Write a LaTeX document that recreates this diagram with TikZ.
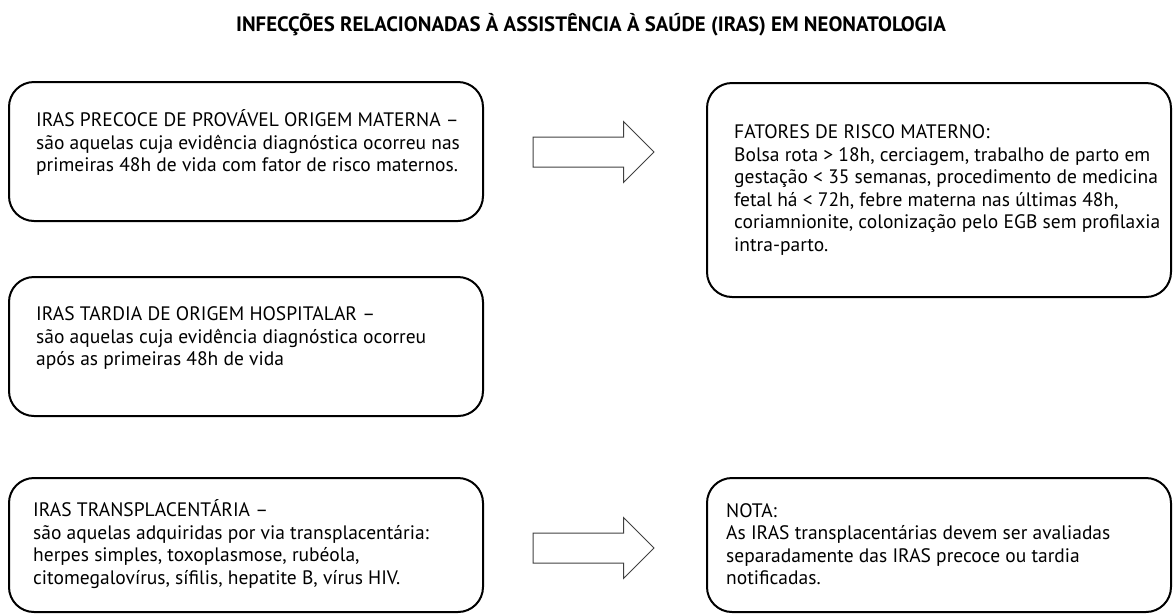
\documentclass[tikz,border=0pt]{standalone}
\usepackage{fontspec}
\setmainfont{PT Sans}
\usetikzlibrary{shapes.arrows, positioning}

\begin{document}
\begin{tikzpicture}[
		x=1pt, y=-1pt,
		box/.style={draw, line width=2pt, rounded corners=25pt, inner sep=0pt},
		txt/.style={align=left, inner sep=0pt, font=\fontsize{19.5}{22.5}\selectfont},
		bigarrow/.style={single arrow, draw=black!75, line width=1pt, minimum height=121pt,
			inner xsep=0pt, inner ysep=14.5pt, single arrow head extend=15.5pt}
		]
	\useasboundingbox (0,0) rectangle (1173,614);

	% --- Título ---
	\node[font=\fontsize{20.8}{24}\selectfont\bfseries] (titulo) at (591,25)
		{INFECÇÕES RELACIONADAS À ASSISTÊNCIA À SAÚDE (IRAS) EM NEONATOLOGIA};

	% --- Coluna da esquerda ---
	\node[box, minimum width=474pt, minimum height=139pt] (precoce) at (246,151.5) {};
	\node[box, minimum width=474pt, minimum height=139pt] (tardia) at (246,346.5) {};
	\node[box, minimum width=474pt, minimum height=134pt] (transp) at (246,545) {};

	\node[txt, right=28pt of precoce.west, yshift=9pt] (tprecoce)
		{IRAS PRECOCE DE PROVÁVEL ORIGEM MATERNA –\\
		 são aquelas cuja evidência diagnóstica ocorreu nas\\
		 primeiras 48h de vida com fator de risco maternos.};
	\node[txt, right=28pt of tardia.west, yshift=8pt] (ttardia)
		{IRAS TARDIA DE ORIGEM HOSPITALAR –\\
		 são aquelas cuja evidência diagnóstica ocorreu\\
		 após as primeiras 48h de vida};
	\node[txt, right=25pt of transp.west, yshift=1pt] (ttransp)
		{IRAS TRANSPLACENTÁRIA –\\
		 são aquelas adquiridas por via transplacentária:\\
		 herpes simples, toxoplasmose, rubéola,\\
		 citomegalovírus, sífilis, hepatite B, vírus HIV.};

	% --- Coluna da direita ---
	\node[box, minimum width=464pt, minimum height=214pt] (fatores) at (939,190) {};
	\node[box, minimum width=464pt, minimum height=134pt] (nota) at (939,545) {};

	\node[txt, right=28pt of fatores.west] (tfatores)
		{FATORES DE RISCO MATERNO:\\
		 Bolsa rota > 18h, cerciagem, trabalho de parto em\\
		 gestação < 35 semanas, procedimento de medicina\\
		 fetal há < 72h, febre materna nas últimas 48h,\\
		 coriamnionite, colonização pelo EGB sem profilaxia\\
		 intra-parto.};
	\node[txt, right=20pt of nota.west, yshift=1pt] (tnota)
		{NOTA:\\
		 As IRAS transplacentárias devem ser avaliadas\\
		 separadamente das IRAS precoce ou tardia\\
		 notificadas.};

	% --- Setas ---
	\node[bigarrow] (seta1) at (586,152) {};
	\node[bigarrow] (seta2) at (586,548) {};

\end{tikzpicture}
\end{document}
